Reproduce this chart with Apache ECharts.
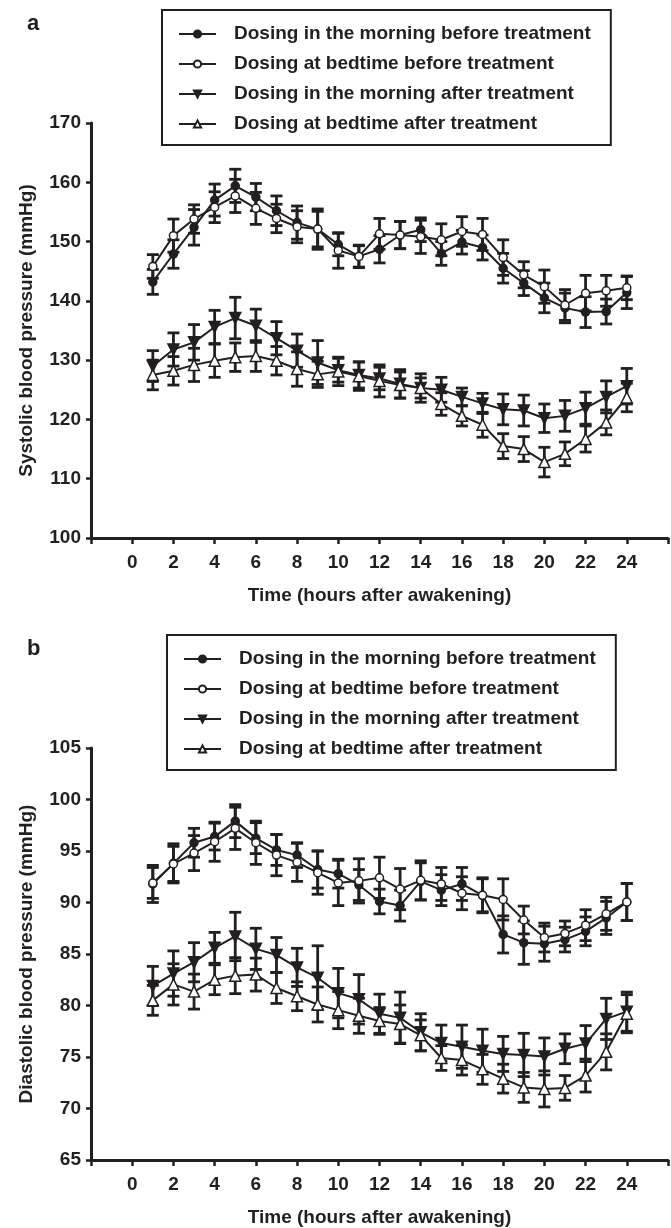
<!DOCTYPE html>
<html>
<head>
<meta charset="utf-8">
<script src="https://cdn.jsdelivr.net/npm/echarts@6/dist/echarts.min.js"></script>
<style>
html, body {margin: 0; padding: 0; background: #fff;}
#chart {width: 671px; height: 1228px;}
</style>
</head>
<body>
<div id="chart"></div>
<script>
// hours after awakening (x)
const hours = [1, 2, 3, 4, 5, 6, 7, 8, 9, 10, 11, 12, 13, 14, 15, 16, 17, 18, 19, 20, 21, 22, 23, 24];

const series_names = [
    'Dosing in the morning before treatment',
    'Dosing at bedtime before treatment',
    'Dosing in the morning after treatment',
    'Dosing at bedtime after treatment'
];

// panel a: systolic, mean and SE
const sbp_morning_before = [143.2, 147.9, 152.4, 157.0, 159.4, 157.5, 155.2, 153.2, 152.1, 149.5, 147.5, 148.7, 151.1, 152.0, 148.0, 149.9, 149.0, 145.5, 143.0, 140.5, 138.8, 138.1, 138.2, 141.4];
const sbp_morning_before_se = [2.1, 2.4, 3.0, 2.7, 2.8, 2.3, 2.5, 2.8, 3.0, 1.9, 1.8, 2.3, 2.3, 2.0, 2.0, 2.0, 2.1, 2.5, 2.1, 2.5, 2.5, 2.6, 2.1, 2.7];
const sbp_bedtime_before = [145.8, 151.0, 153.8, 155.8, 157.7, 155.6, 153.9, 152.5, 152.1, 148.5, 147.5, 151.3, 151.1, 150.8, 150.3, 151.7, 151.2, 147.3, 144.4, 142.4, 139.3, 141.3, 141.7, 142.2];
const sbp_bedtime_before_se = [2.0, 2.8, 2.4, 2.6, 2.8, 2.7, 2.4, 2.7, 3.4, 3.0, 1.9, 2.6, 2.3, 2.8, 2.7, 2.5, 2.7, 3.0, 2.2, 2.8, 2.6, 3.0, 2.6, 2.0];
const sbp_morning_after = [129.0, 131.8, 133.0, 135.6, 137.1, 135.8, 133.7, 131.6, 129.6, 128.3, 127.5, 126.9, 126.0, 125.3, 125.0, 123.8, 122.7, 121.7, 121.5, 120.2, 120.6, 121.9, 123.8, 125.6];
const sbp_morning_after_se = [2.6, 2.8, 3.0, 2.8, 3.5, 2.8, 2.8, 2.8, 3.7, 2.0, 2.2, 1.9, 2.4, 2.4, 2.1, 1.5, 1.7, 2.6, 2.6, 2.4, 2.6, 2.7, 2.7, 3.0];
const sbp_bedtime_after = [127.5, 128.2, 129.2, 129.9, 130.5, 130.7, 129.9, 128.5, 127.6, 128.1, 127.3, 126.5, 125.8, 125.3, 122.6, 120.6, 119.1, 115.5, 115.0, 112.8, 114.2, 116.7, 119.5, 123.7];
const sbp_bedtime_after_se = [2.5, 2.4, 2.8, 2.8, 2.4, 2.6, 2.4, 2.9, 2.2, 2.4, 2.4, 2.7, 2.2, 1.7, 1.9, 1.7, 2.1, 2.1, 2.1, 2.5, 2.0, 2.2, 2.1, 2.4];
const sbp_star_hours = [5, 6, 7, 18, 19, 20, 21, 22];
const sbp_star_level = [125.3, 125.3, 125.3, 108.1, 108.1, 108.1, 108.1, 108.1];

// panel b: diastolic, mean and SE
const dbp_morning_before = [91.8, 93.8, 95.8, 96.4, 97.9, 96.25, 95.1, 94.6, 93.2, 92.8, 91.7, 90.1, 89.7, 92.05, 91.2, 91.8, 90.7, 86.9, 86.1, 86.0, 86.4, 87.2, 88.5, 90.05];
const dbp_morning_before_se = [1.8, 1.9, 1.4, 1.3, 1.6, 1.5, 1.5, 1.2, 1.8, 1.4, 1.5, 1.2, 1.5, 1.8, 1.5, 1.6, 1.6, 1.8, 2.1, 1.7, 1.2, 1.4, 1.6, 1.8];
const dbp_bedtime_before = [91.9, 93.75, 94.8, 95.9, 97.2, 95.8, 94.6, 93.9, 92.9, 91.9, 92.1, 92.4, 91.3, 92.15, 91.8, 90.9, 90.7, 90.3, 88.3, 86.6, 87.0, 87.8, 88.9, 90.05];
const dbp_bedtime_before_se = [1.5, 1.7, 1.7, 1.9, 2.05, 2.1, 2.0, 1.85, 2.1, 2.2, 2.15, 2.0, 2.0, 1.9, 1.6, 1.6, 1.7, 2.0, 1.35, 1.4, 1.2, 1.5, 1.6, 1.8];
const dbp_morning_after = [81.9, 83.1, 84.2, 85.6, 86.7, 85.5, 84.9, 83.7, 82.7, 81.2, 80.6, 79.2, 78.8, 77.4, 76.35, 76.0, 75.6, 75.3, 75.2, 75.05, 75.8, 76.3, 78.7, 79.4];
const dbp_morning_after_se = [1.9, 2.2, 1.9, 1.5, 2.35, 2.0, 1.7, 1.85, 3.1, 2.4, 2.4, 1.9, 2.5, 1.8, 1.75, 2.1, 2.1, 1.7, 2.1, 1.8, 1.45, 1.75, 2.0, 1.9];
const dbp_bedtime_after = [80.5, 82.05, 81.35, 82.5, 82.9, 83.0, 81.7, 80.9, 80.1, 79.55, 79.0, 78.5, 78.2, 77.1, 74.9, 74.7, 73.8, 72.9, 72.05, 71.9, 72.0, 73.2, 75.5, 79.2];
const dbp_bedtime_after_se = [1.45, 2.0, 1.7, 1.45, 1.75, 1.6, 1.5, 1.4, 1.7, 1.8, 1.7, 1.3, 1.85, 1.5, 1.2, 1.45, 1.45, 1.4, 1.45, 1.75, 1.2, 1.6, 1.75, 1.85];
const dbp_star_hours = [4, 5, 6, 7, 19, 20, 21, 22, 23];
const dbp_star_level = [79.0, 79.0, 79.0, 79.0, 69.1, 69.1, 69.1, 69.1, 69.1];

const ink = '#231f20';
const font = '"Liberation Sans", Arial, sans-serif';

function txt(size, extra = {}) {
    let t = {color: ink, fontSize: size, fontWeight: 'bold', fontFamily: font};
    for (let key in extra) t[key] = extra[key];
    return t;
}

function gen_err_series(idx, values, se) {
    return {
        type: 'custom',
        xAxisIndex: idx,
        yAxisIndex: idx,
        silent: true,
        z: 1,
        data: values.map((v, i) => [hours[i], v - se[i], v + se[i]]),
        encode: {x: 0, y: [1, 2]},
        renderItem: function (params, api) {
            let hi = api.coord([api.value(0), api.value(2)]);
            let lo = api.coord([api.value(0), api.value(1)]);
            let w = 6;
            let style = {stroke: ink, lineWidth: 2.8, fill: null};
            return {
                type: 'group',
                children: [
                    {type: 'line', shape: {x1: hi[0], y1: hi[1], x2: lo[0], y2: lo[1]}, style: style},
                    {type: 'line', shape: {x1: hi[0] - w, y1: hi[1], x2: hi[0] + w, y2: hi[1]}, style: style},
                    {type: 'line', shape: {x1: lo[0] - w, y1: lo[1], x2: lo[0] + w, y2: lo[1]}, style: style}
                ]
            };
        }
    };
}

function gen_line_series(name, idx, values, symbol, filled) {
    let tri = symbol !== 'circle';
    return {
        name: name,
        type: 'line',
        xAxisIndex: idx,
        yAxisIndex: idx,
        data: values.map((v, i) => [hours[i], v]),
        symbol: tri ? 'triangle' : 'circle',
        symbolRotate: symbol === 'down' ? 180 : 0,
        symbolSize: tri ? 11 : 8,
        showAllSymbol: true,
        lineStyle: {color: ink, width: 2},
        itemStyle: {color: filled ? ink : '#fff', borderColor: ink, borderWidth: 1.5},
        z: 3
    };
}

function gen_star_series(idx, xs, ys) {
    return {
        type: 'scatter',
        xAxisIndex: idx,
        yAxisIndex: idx,
        silent: true,
        symbolSize: 1,
        itemStyle: {opacity: 0},
        data: xs.map((x, i) => [x, ys[i]]),
        label: {show: true, position: 'inside', formatter: '*', offset: [0, 3],
            color: '#444', fontSize: 14, fontFamily: font},
        z: 4
    };
}

function gen_x_axis(idx) {
    return {
        gridIndex: idx,
        type: 'value',
        min: -2,
        max: 26,
        interval: 2,
        axisLine: {lineStyle: {color: ink, width: 3}},
        axisTick: {length: 6, lineStyle: {color: ink, width: 2.5}},
        splitLine: {show: false},
        axisLabel: {margin: 15, formatter: v => (v < 0 || v > 24) ? '' : String(v), ...txt(19)},
        name: 'Time (hours after awakening)',
        nameLocation: 'middle',
        nameGap: 48,
        nameTextStyle: txt(19)
    };
}

function gen_y_axis(idx, name, min, max, step) {
    return {
        gridIndex: idx,
        type: 'value',
        min: min,
        max: max,
        interval: step,
        axisLine: {show: true, onZero: false, lineStyle: {color: ink, width: 3}},
        axisTick: {show: true, length: 5, lineStyle: {color: ink, width: 2.5}},
        splitLine: {show: false},
        axisLabel: {margin: 10, ...txt(19)},
        name: name,
        nameLocation: 'middle',
        nameGap: 55,
        nameTextStyle: txt(19)
    };
}

function gen_legend(left, top) {
    return {
        left: left,
        top: top,
        orient: 'vertical',
        data: series_names,
        selectedMode: false,
        itemWidth: 37,
        itemHeight: 9,
        itemGap: 10,
        padding: [14, 20, 11, 16],
        borderColor: ink,
        borderWidth: 2,
        textStyle: txt(19, {lineHeight: 20, padding: [0, 0, 0, 13]})
    };
}

function gen_panel_series(idx, groups, stars) {
    let out = [];
    let symbols = [['circle', true], ['circle', false], ['down', true], ['up', false]];
    groups.forEach((g) => out.push(gen_err_series(idx, g[0], g[1])));
    groups.forEach((g, k) => out.push(gen_line_series(series_names[k], idx, g[0], symbols[k][0], symbols[k][1])));
    out.push(gen_star_series(idx, stars[0], stars[1]));
    return out;
}

let chart = echarts.init(document.getElementById('chart'));

let option = {
    animation: false,
    backgroundColor: '#fff',
    title: [
        {text: 'a', left: 22, top: 8, textStyle: txt(22)},
        {text: 'b', left: 22, top: 633, textStyle: txt(22)}
    ],
    legend: [gen_legend(162, 10), gen_legend(167, 635)],
    grid: [
        {left: 91, top: 123, width: 579, height: 415},
        {left: 91, top: 748, width: 579, height: 415}
    ],
    xAxis: [gen_x_axis(0), gen_x_axis(1)],
    yAxis: [
        gen_y_axis(0, 'Systolic blood pressure (mmHg)', 100, 170, 10),
        gen_y_axis(1, 'Diastolic blood pressure (mmHg)', 65, 105, 5)
    ],
    series: [].concat(
        gen_panel_series(0, [
            [sbp_morning_before, sbp_morning_before_se],
            [sbp_bedtime_before, sbp_bedtime_before_se],
            [sbp_morning_after, sbp_morning_after_se],
            [sbp_bedtime_after, sbp_bedtime_after_se]
        ], [sbp_star_hours, sbp_star_level]),
        gen_panel_series(1, [
            [dbp_morning_before, dbp_morning_before_se],
            [dbp_bedtime_before, dbp_bedtime_before_se],
            [dbp_morning_after, dbp_morning_after_se],
            [dbp_bedtime_after, dbp_bedtime_after_se]
        ], [dbp_star_hours, dbp_star_level])
    )
};

chart.setOption(option);
</script>
</body>
</html>
